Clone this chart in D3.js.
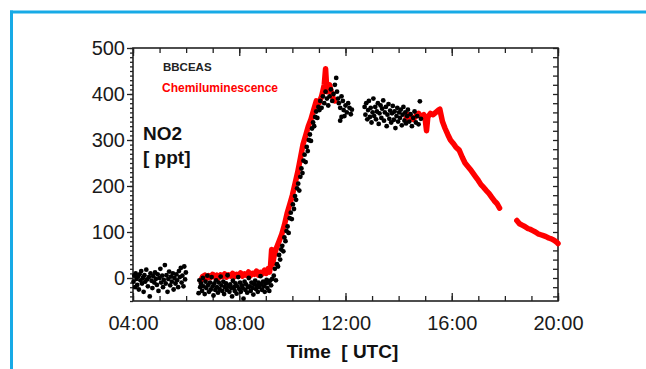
<!DOCTYPE html>
<html>
<head>
<meta charset="utf-8">
<script src="https://cdn.jsdelivr.net/npm/d3@7"></script>
<style>
  body { margin: 0; background: #fff; }
  svg { display: block; font-family: Arial, "Liberation Sans", sans-serif; }
</style>
</head>
<body>
<div id="chart"></div>
<script>
// time in hours UTC, NO2 in ppt
const xTicks = [4, 8, 12, 16, 20];
const xTickLabels = ["04:00", "08:00", "12:00", "16:00", "20:00"];
const yTicks = [0, 100, 200, 300, 400, 500];

// BBCEAS (black dots)
const bbceasEarly = [[4.02,-8],[4.05,5],[4.08,-20],[4.1,10],[4.13,-2],[4.16,-15],[4.19,3],[4.22,-25],[4.25,8],[4.28,-5],[4.31,15],[4.34,-12],[4.37,0],[4.4,-30],[4.43,6],[4.46,-8],[4.5,18],[4.53,-3],[4.56,-18],[4.6,2],[4.63,-40],[4.66,10],[4.7,-6],[4.73,-22],[4.76,4],[4.8,-10],[4.83,12],[4.86,-2],[4.9,-15],[4.93,8],[4.96,-28],[5.0,0],[5.03,20],[5.06,-10],[5.1,5],[5.13,-20],[5.16,-4],[5.2,28],[5.23,-12],[5.26,6],[5.3,-30],[5.33,-2],[5.36,14],[5.4,-16],[5.43,3],[5.46,-8],[5.5,10],[5.53,-25],[5.56,0],[5.6,-12],[5.63,8],[5.66,-5],[5.7,-20],[5.73,15],[5.76,2],[5.8,22],[5.83,-10],[5.86,5],[5.9,-18],[5.93,25],[5.96,-3],[5.99,12]];
const bbceasMorning = [[6.47,-33],[6.5,-5],[6.53,-20],[6.56,-12],[6.6,-28],[6.63,0],[6.66,-18],[6.7,-35],[6.73,-8],[6.76,-22],[6.8,5],[6.83,-15],[6.86,-30],[6.9,-10],[6.93,-25],[6.96,2],[7.0,-18],[7.03,-38],[7.06,-12],[7.1,-26],[7.13,-5],[7.16,-20],[7.2,-32],[7.23,-10],[7.26,-24],[7.3,3],[7.33,-16],[7.36,-28],[7.4,-8],[7.43,-35],[7.46,-20],[7.5,-12],[7.53,-26],[7.56,6],[7.6,-18],[7.63,-30],[7.66,-14],[7.7,-22],[7.73,-40],[7.76,-6],[7.8,-20],[7.83,-28],[7.86,-12],[7.9,-34],[7.93,-18],[7.96,2],[8.0,-24],[8.03,-10],[8.06,-30],[8.1,-16],[8.13,-22],[8.16,-45],[8.2,-8],[8.23,-26],[8.26,-14],[8.3,-32],[8.33,-20],[8.36,0],[8.4,-18],[8.43,-28],[8.46,-10],[8.5,-22],[8.53,-36],[8.56,-14],[8.6,-6],[8.63,-24],[8.66,-16],[8.7,-30],[8.73,-10],[8.76,-20],[8.8,4],[8.83,-14],[8.86,-26],[8.9,-8],[8.93,-18],[8.96,-30],[9.0,-12],[9.03,-4],[9.06,-22],[9.1,-10],[9.13,-28],[9.16,-6],[9.2,-16],[9.24,-2]];
const bbceasRise = [[9.3,5],[9.34,20],[9.38,-5],[9.42,30],[9.46,25],[9.5,50],[9.54,40],[9.58,62],[9.62,70],[9.66,58],[9.7,88],[9.74,80],[9.78,102],[9.82,112],[9.86,98],[9.9,130],[9.94,142],[9.98,128],[10.02,160],[10.06,150],[10.1,178],[10.14,170],[10.18,195],[10.22,205],[10.26,190],[10.3,220],[10.34,238],[10.38,228],[10.42,255],[10.46,268],[10.5,252],[10.54,285],[10.58,276],[10.62,300],[10.66,312],[10.7,298],[10.74,325],[10.78,338],[10.82,330],[10.86,350],[10.9,362],[10.94,348],[10.98,372],[11.02,365]];
const bbceasNoon = [[11.05,385],[11.1,370],[11.15,395],[11.2,380],[11.25,405],[11.3,390],[11.35,375],[11.4,395],[11.45,410],[11.5,385],[11.55,400],[11.6,420],[11.65,435],[11.68,405],[11.72,390],[11.75,380],[11.8,370],[11.8,342],[11.85,395],[11.85,350],[11.9,385],[11.93,365],[11.96,352],[12.0,375],[12.05,360],[12.1,380],[12.15,370],[12.2,356],[12.24,366]];
const bbceasAfternoon = [[12.72,372],[12.75,355],[12.78,380],[12.82,345],[12.85,365],[12.88,385],[12.92,350],[12.95,370],[12.98,338],[13.02,360],[13.05,390],[13.08,352],[13.12,372],[13.15,345],[13.18,362],[13.22,380],[13.25,335],[13.28,358],[13.32,375],[13.35,348],[13.38,368],[13.42,386],[13.45,342],[13.48,360],[13.52,372],[13.55,330],[13.58,355],[13.62,378],[13.65,346],[13.68,364],[13.72,338],[13.75,358],[13.78,374],[13.82,344],[13.85,362],[13.88,326],[13.92,352],[13.95,370],[13.98,340],[14.02,360],[14.05,348],[14.08,366],[14.12,332],[14.15,355],[14.18,372],[14.22,342],[14.25,360],[14.28,336],[14.32,352],[14.35,366],[14.4,340],[14.45,356],[14.5,330],[14.55,348],[14.6,362],[14.65,338],[14.7,352],[14.75,334],[14.8,384],[14.84,346]];

// Chemiluminescence (red), null marks a gap in the record
const chemTime = [6.55,6.62,6.7,6.77,6.85,6.92,7.0,7.07,7.15,7.22,7.3,7.37,7.45,7.52,7.6,7.67,7.75,7.82,7.9,7.97,8.05,8.12,8.2,8.27,8.35,8.42,8.5,8.57,8.65,8.72,8.8,8.87,8.95,9.02,9.08,9.14,9.18,9.22,9.26,9.3,9.4,9.5,9.6,9.7,9.8,9.9,10.0,10.1,10.2,10.3,10.4,10.5,10.6,10.7,10.8,10.9,11.0,11.1,11.2,11.25,11.3,11.4,11.5,11.6,
  12.5,
  14.27,14.35,14.45,14.55,14.65,14.75,14.85,14.95,15.0,15.05,15.1,15.2,15.3,15.4,15.5,15.55,15.65,15.75,15.85,15.95,16.05,16.15,16.28,16.4,16.5,16.6,16.7,16.8,16.9,17.0,17.1,17.2,17.3,17.4,17.5,17.6,17.7,17.8,
  18.1,
  18.45,18.55,18.65,18.75,18.85,18.95,19.05,19.15,19.25,19.35,19.45,19.55,19.65,19.75,19.85,19.95,20.0];
const chemValue = [-6,3,6,-1,5,1,8,2,6,0,7,3,9,2,7,4,10,3,8,5,11,4,9,6,13,5,10,8,15,6,12,9,17,10,20,13,28,62,30,45,65,80,95,115,140,160,180,205,230,260,290,310,330,345,365,385,380,395,420,455,405,420,395,385,
  null,
  345,355,350,345,352,358,350,355,345,320,350,358,355,360,365,367,340,325,312,300,293,285,278,262,250,243,236,228,220,212,203,197,190,184,176,168,162,152,
  null,
  125,118,115,112,108,106,103,100,96,94,92,90,87,85,82,78,75];

const bbceas = [].concat(bbceasEarly, bbceasMorning, bbceasRise, bbceasNoon, bbceasAfternoon);
const chem = chemTime.map((t, i) => ({ t: t, v: chemValue[i] }));

const W = 646, H = 369;
const margin = { left: 133, right: 88, top: 48, bottom: 68 };
const innerW = W - margin.left - margin.right;
const innerH = H - margin.top - margin.bottom;

const svg = d3.select("#chart").append("svg")
  .attr("width", W)
  .attr("height", H);

// blue frame of the figure panel
svg.append("line").attr("x1", 10).attr("x2", W).attr("y1", 12).attr("y2", 12)
  .attr("stroke", "#17aae6").attr("stroke-width", 3);
svg.append("line").attr("x1", 11.5).attr("x2", 11.5).attr("y1", 10.5).attr("y2", H)
  .attr("stroke", "#17aae6").attr("stroke-width", 3);

const g = svg.append("g").attr("transform", "translate(" + margin.left + "," + margin.top + ")");

const x = d3.scaleLinear().domain([4, 20]).range([0, innerW]);
const y = d3.scaleLinear().domain([-50, 500]).range([innerH, 0]);

function styleAxis(sel) {
  sel.select(".domain").remove();
  sel.selectAll("line").attr("stroke", "#222").attr("stroke-width", 1.3);
  sel.selectAll("text").attr("fill", "#1a1a1a").style("font-size", "20px");
}

// minor ticks
g.append("g").call(d3.axisLeft(y).tickValues(d3.range(-50, 501, 10)).tickSize(3).tickFormat(""))
  .call(styleAxis);
g.append("g").attr("transform", "translate(" + innerW + ",0)")
  .call(d3.axisLeft(y).tickValues(d3.range(-40, 501, 20)).tickSize(5).tickFormat(""))
  .call(styleAxis);
g.append("g").attr("transform", "translate(0," + innerH + ")")
  .call(d3.axisBottom(x).tickValues(d3.range(4, 21, 1)).tickSize(-5).tickFormat(""))
  .call(styleAxis);
g.append("g")
  .call(d3.axisTop(x).tickValues(d3.range(4, 21, 1)).tickSize(-5).tickFormat(""))
  .call(styleAxis);

// major ticks with labels
g.append("g")
  .call(d3.axisLeft(y).tickValues(yTicks).tickSize(6).tickPadding(2))
  .call(styleAxis);
g.append("g").attr("transform", "translate(0," + innerH + ")")
  .call(d3.axisBottom(x).tickValues(xTicks).tickSize(-8).tickPadding(15)
    .tickFormat((d, i) => xTickLabels[i]))
  .call(styleAxis);
g.append("g")
  .call(d3.axisTop(x).tickValues(xTicks).tickSize(-8).tickFormat(""))
  .call(styleAxis);

// plot frame
g.append("rect").attr("width", innerW).attr("height", innerH)
  .attr("fill", "none").attr("stroke", "#222").attr("stroke-width", 1.6);

// red series: thick trace
const line = d3.line()
  .defined(d => d.v !== null)
  .x(d => x(d.t)).y(d => y(d.v));
g.append("path").datum(chem)
  .attr("d", line)
  .attr("fill", "none")
  .attr("stroke", "#ff0000")
  .attr("stroke-width", 5.5)
  .attr("stroke-linejoin", "round")
  .attr("stroke-linecap", "round");

// black series
g.append("g").selectAll("circle")
  .data(bbceas)
  .enter().append("circle")
  .attr("cx", d => x(d[0]))
  .attr("cy", d => y(d[1]))
  .attr("r", 2.4)
  .attr("fill", "#000");

// legend and labels
g.append("text").attr("x", 30).attr("y", 23)
  .style("font-size", "11.5px").style("font-weight", "bold").attr("fill", "#222")
  .text("BBCEAS");
g.append("text").attr("x", 29).attr("y", 44)
  .style("font-size", "12px").style("font-weight", "bold").attr("fill", "#ff0000")
  .text("Chemiluminescence");
g.append("text").attr("x", 10).attr("y", 92)
  .style("font-size", "19px").style("font-weight", "bold").attr("fill", "#111")
  .text("NO2");
g.append("text").attr("x", 10).attr("y", 116)
  .style("font-size", "19px").style("font-weight", "bold").attr("fill", "#111")
  .text("[ ppt]");

svg.append("text")
  .attr("x", margin.left + innerW / 2 - 3).attr("y", 358)
  .attr("text-anchor", "middle")
  .style("font-size", "19px").style("font-weight", "bold").attr("fill", "#111")
  .text("Time\u00a0 [ UTC]");
</script>
</body>
</html>
